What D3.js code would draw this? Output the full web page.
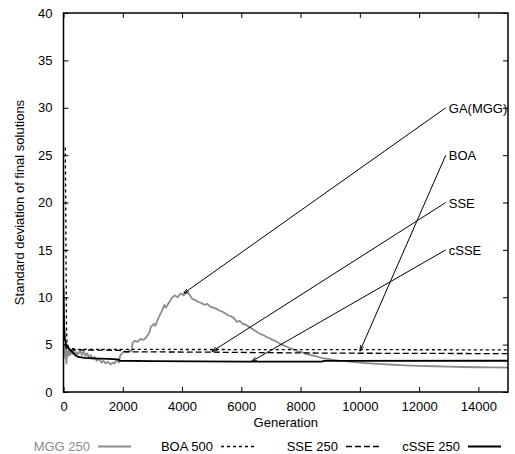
<!DOCTYPE html>
<html>
<head>
<meta charset="utf-8">
<script src="https://cdn.jsdelivr.net/npm/d3@7"></script>
<style>
  body { margin: 0; background: #fff; }
  svg { font-family: "Liberation Sans", Arial, Helvetica, sans-serif; }
</style>
</head>
<body>
<script>
// data
const xTicks = [0, 2000, 4000, 6000, 8000, 10000, 12000, 14000];
const yTicks = [0, 5, 10, 15, 20, 25, 30, 35, 40];

const mgg = [
  [0, 5.0], [20, 4.2], [40, 4.8], [60, 3.6], [80, 4.5], [100, 3.0], [120, 4.3],
  [150, 3.8], [180, 4.6], [220, 3.9], [260, 4.4], [300, 4.0], [350, 4.5],
  [400, 3.8], [450, 4.2], [500, 4.0], [560, 4.4], [620, 3.9], [680, 4.3],
  [740, 3.8], [800, 4.1], [860, 3.6], [920, 3.9], [980, 3.5], [1050, 3.7],
  [1120, 3.3], [1200, 3.5], [1280, 3.1], [1350, 3.3], [1420, 3.0], [1500, 3.2],
  [1580, 2.9], [1650, 3.1], [1720, 3.0], [1800, 3.4], [1860, 3.1], [1920, 3.9],
  [1980, 4.1], [2050, 4.3], [2150, 4.2], [2250, 4.4], [2300, 4.3], [2330, 5.2],
  [2400, 5.4], [2500, 5.3], [2600, 5.6], [2700, 5.5], [2800, 5.8], [2900, 6.3],
  [2950, 6.9], [3000, 7.0], [3050, 7.2], [3100, 7.0], [3200, 7.8], [3300, 8.4],
  [3400, 9.2], [3450, 8.9], [3550, 9.4], [3650, 9.9], [3750, 10.2], [3850, 10.0],
  [3950, 10.4], [4050, 10.2], [4150, 10.5], [4250, 10.3], [4350, 9.8], [4450, 9.7],
  [4550, 9.5], [4650, 9.4], [4750, 9.2], [4850, 9.3], [4950, 9.0], [5050, 8.9],
  [5150, 8.8], [5250, 8.6], [5350, 8.5], [5450, 8.3], [5550, 8.1], [5650, 8.0],
  [5750, 7.8], [5850, 7.4], [5950, 7.5], [6050, 7.2], [6150, 7.1], [6250, 6.9],
  [6350, 6.7], [6450, 6.5], [6550, 6.3], [6650, 6.1], [6750, 6.0], [6850, 5.8],
  [6950, 5.7], [7050, 5.5], [7150, 5.4], [7250, 5.2], [7350, 5.0], [7450, 4.9],
  [7600, 4.7], [7750, 4.5], [7900, 4.3], [8050, 4.2], [8200, 4.0], [8350, 3.9],
  [8500, 3.8], [8700, 3.6], [8900, 3.5], [9100, 3.4], [9300, 3.3], [9500, 3.25],
  [9800, 3.15], [10200, 3.05], [10600, 2.97], [11000, 2.9], [11500, 2.82],
  [12000, 2.76], [12500, 2.72], [13000, 2.68], [13500, 2.64], [14000, 2.61],
  [14500, 2.59], [15000, 2.57]
];
const boa = [
  [60, 25.8], [75, 20], [90, 12], [100, 7], [120, 5], [200, 4.6], [500, 4.5],
  [15000, 4.45]
];
const sse = [
  [0, 7], [50, 5], [100, 4.6], [200, 4.45], [1900, 4.4], [2000, 4.25],
  [5000, 4.2], [9000, 4.1], [15000, 4.05]
];
const csse = [
  [0, 11], [20, 7], [50, 5.5], [100, 4.9], [200, 4.5], [300, 4.2], [400, 3.9],
  [500, 3.7], [700, 3.6], [1000, 3.55], [1500, 3.5], [1850, 3.45], [1900, 3.3],
  [3000, 3.25], [6000, 3.2], [8700, 3.2], [8800, 3.28], [15000, 3.3]
];

// annotations: label, label anchor (data), arrow tip (data)
const notes = [
  {label: "GA(MGG)", from: [12900, 30], to: [4050, 10.4]},
  {label: "BOA", from: [12900, 25], to: [10000, 4.3]},
  {label: "SSE", from: [12900, 20], to: [5000, 4.25]},
  {label: "cSSE", from: [12900, 15], to: [6330, 3.2]}
];

const legendItems = [
  {name: "MGG 250", data: mgg, color: "#8c8c8c", dash: null, width: 1.8},
  {name: "BOA 500", data: boa, color: "#000", dash: "3,3", width: 1.3},
  {name: "SSE 250", data: sse, color: "#000", dash: "6,3", width: 1.3},
  {name: "cSSE 250", data: csse, color: "#000", dash: null, width: 1.8}
];

const W = 515, H = 454;
const margin = {left: 63.5, top: 13, right: 7, bottom: 62};
const width = W - margin.left - margin.right,
    height = H - margin.top - margin.bottom;

const svg = d3.select('body').append('svg')
    .attr('width', W)
    .attr('height', H);

const g = svg.append('g')
    .attr('transform', `translate(${margin.left}, ${margin.top})`);

const xScale = d3.scaleLinear().domain([0, 15000]).range([0, width]);
const yScale = d3.scaleLinear().domain([0, 40]).range([height, 0]);

// arrow head
svg.append('defs').append('marker')
    .attr('id', 'head')
    .attr('viewBox', '0 0 10 10')
    .attr('refX', 10).attr('refY', 5)
    .attr('markerWidth', 6).attr('markerHeight', 6)
    .attr('markerUnits', 'userSpaceOnUse')
    .attr('orient', 'auto')
  .append('path')
    .attr('d', 'M0,2 L10,5 L0,8')
    .attr('fill', 'none')
    .attr('stroke', '#000')
    .attr('stroke-width', 1.4);

// axes with inward ticks on all sides
const axisStyle = sel => {
  sel.select('.domain').remove();
  sel.selectAll('text').attr('font-size', '13px').attr('fill', '#000');
  sel.selectAll('line').attr('stroke', '#000').attr('stroke-width', 1);
};

g.append('g')
    .attr('transform', `translate(0, ${height})`)
    .call(d3.axisBottom(xScale).tickValues(xTicks).tickFormat(d3.format('d'))
      .tickSizeInner(-5).tickSizeOuter(0).tickPadding(10))
    .call(axisStyle);

g.append('g')
    .call(d3.axisLeft(yScale).tickValues(yTicks).tickSizeInner(-5).tickSizeOuter(0).tickPadding(11))
    .call(axisStyle);

g.append('g')
    .call(d3.axisTop(xScale).tickValues(xTicks).tickSizeInner(-5).tickSizeOuter(0).tickFormat(''))
    .call(axisStyle);

g.append('g')
    .attr('transform', `translate(${width}, 0)`)
    .call(d3.axisRight(yScale).tickValues(yTicks).tickSizeInner(-5).tickSizeOuter(0).tickFormat(''))
    .call(axisStyle);

// series
const line = d3.line().x(d => xScale(d[0])).y(d => yScale(d[1]));

g.append('clipPath').attr('id', 'clip')
  .append('rect').attr('width', width).attr('height', height);

const plot = g.append('g').attr('clip-path', 'url(#clip)');
legendItems.forEach(s => {
  plot.append('path')
      .datum(s.data)
      .attr('d', line)
      .attr('fill', 'none')
      .attr('stroke', s.color)
      .attr('stroke-width', s.width)
      .attr('stroke-dasharray', s.dash)
      .attr('stroke-linejoin', 'round');
});

// annotations
notes.forEach(n => {
  g.append('line')
      .attr('x1', xScale(n.from[0])).attr('y1', yScale(n.from[1]))
      .attr('x2', xScale(n.to[0])).attr('y2', yScale(n.to[1]))
      .attr('stroke', '#000')
      .attr('stroke-width', 1)
      .attr('marker-end', 'url(#head)');
  g.append('text')
      .attr('x', xScale(n.from[0]) + 3)
      .attr('y', yScale(n.from[1]) + 5)
      .attr('font-size', '13px')
      .text(n.label);
});

// frame
g.append('rect')
    .attr('width', width).attr('height', height)
    .attr('fill', 'none')
    .attr('stroke', '#000')
    .attr('stroke-width', 1.5);

// axis titles
g.append('text')
    .attr('x', width / 2)
    .attr('y', height + 35)
    .attr('text-anchor', 'middle')
    .attr('font-size', '13px')
    .text('Generation');

svg.append('text')
    .attr('transform', `translate(24, ${margin.top + height / 2}) rotate(-90)`)
    .attr('text-anchor', 'middle')
    .attr('font-size', '13px')
    .text('Standard deviation of final solutions');

// legend
const legendEnds = [90, 213, 338, 460];
legendItems.forEach((s, i) => {
  const x = legendEnds[i];
  svg.append('text')
      .attr('x', x).attr('y', 451)
      .attr('text-anchor', 'end')
      .attr('font-size', '13px')
      .attr('fill', i === 0 ? '#8c8c8c' : '#000')
      .text(s.name);
  svg.append('line')
      .attr('x1', x + 8).attr('x2', x + 41)
      .attr('y1', 446.5).attr('y2', 446.5)
      .attr('stroke', s.color)
      .attr('stroke-width', s.width)
      .attr('stroke-dasharray', s.dash);
});
</script>
</body>
</html>
